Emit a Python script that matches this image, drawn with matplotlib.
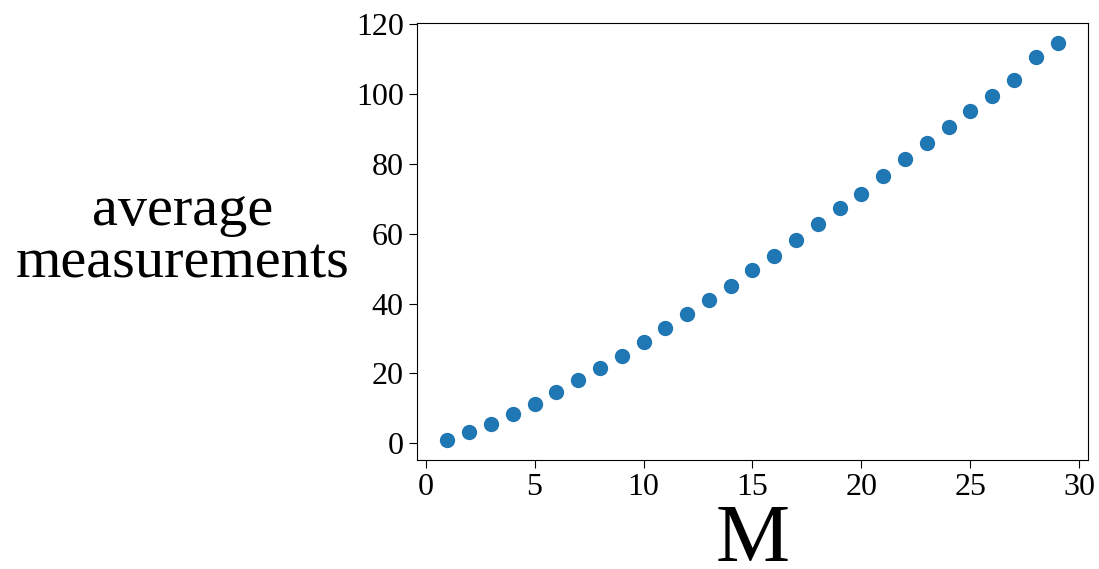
import numpy as np
import matplotlib
matplotlib.use("Agg")
import matplotlib.pyplot as plt

# values
M = list(range(1, 30))
avg_meas = [0.9, 3.2, 5.4, 8.3, 11.3, 14.7, 18.2, 21.6, 25.1, 29.0,
            33.0, 37.1, 41.1, 45.0, 49.6, 53.5, 58.3, 62.9, 67.4, 71.4,
            76.5, 81.3, 85.9, 90.6, 95.1, 99.6, 104.2, 110.6, 114.7]

plt.rcParams['font.family'] = ['Liberation Serif', 'DejaVu Serif']

fig = plt.figure(figsize=(10.99, 5.69), dpi=100)
ax = fig.add_axes([0.3794, 0.1916, 0.6106, 0.768])
ax.scatter(M, avg_meas, s=100, color='#1f77b4')

ax.set_xticks([0, 5, 10, 15, 20, 25, 30])
ax.set_yticks([0, 20, 40, 60, 80, 100, 120])
ax.tick_params(labelsize=23, length=6)

ax.set_xlabel('M', fontsize=60, labelpad=1)
ax.set_ylabel('average\nmeasurements', fontsize=42, rotation=0,
              linespacing=1.0, va='center', ha='center')
ax.yaxis.set_label_coords(-0.349, 0.51)

fig.savefig('out.png', dpi=100)
